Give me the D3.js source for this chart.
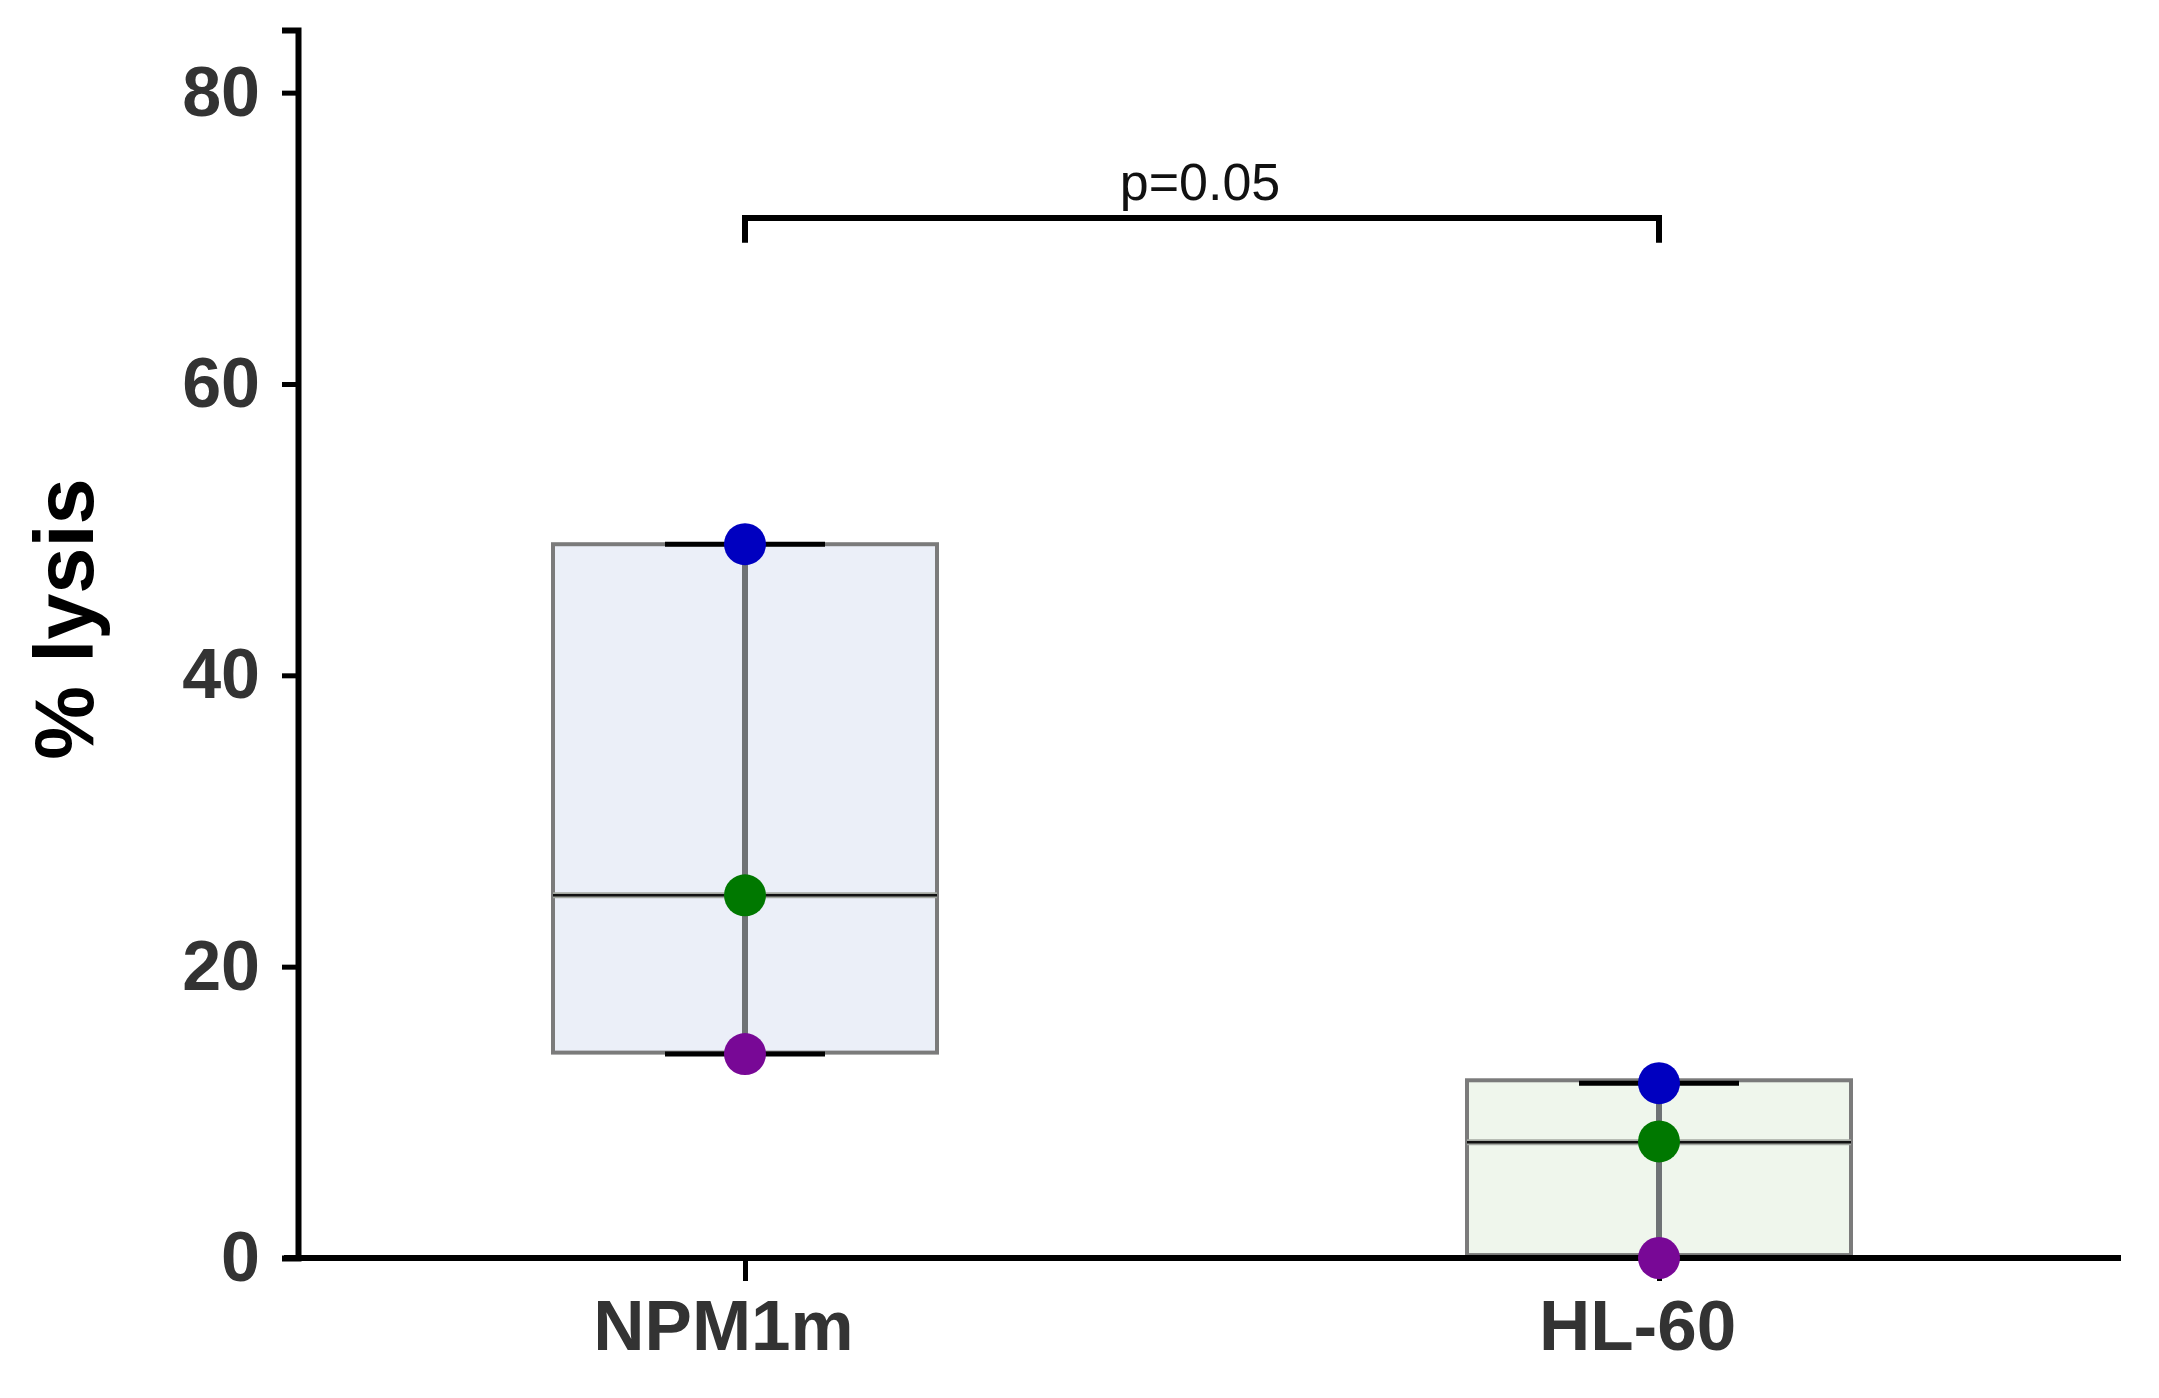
<!DOCTYPE html>
<html>
<head>
<meta charset="utf-8">
<script src="https://cdn.jsdelivr.net/npm/d3@7"></script>
<style>
  body { margin: 0; background: #fff; }
  text { font-family: 'Liberation Sans', Arial, sans-serif; }
</style>
</head>
<body>
<script>
// data
let groups = ['NPM1m', 'HL-60']
let boxLow = [14.1, 0.2]
let boxHigh = [49.0, 12.2]
let medians = [24.9, 7.95]
let whiskerLow = [14.0, 0]
let whiskerHigh = [49.0, 12.0]
// the three replicates (one colour each)
let pointColors = ['#0000c0', '#007800', '#780896']
let pointValues = [
  [49.0, 24.9, 14.0],
  [12.0, 8.0, 0.0]
]
let boxFills = ['#ebeff8', '#eff6ec']
let yTicks = [0, 20, 40, 60, 80]
let pLabel = 'p=0.05'
let bracketY = 71.4
let bracketEnd = 69.7

// measurements
let m = {
  width: 2159,
  height: 1398,
  left: 298,
  right: 2121,
  top: 30,
  bottom: 1258,
  boxWidth: 384,
  capWidth: 160,
  dot: 21
}

let svg = d3.select('body')
  .append('svg')
  .attr('width', m.width)
  .attr('height', m.height)

let yScale = d3.scaleLinear()
  .domain([0, 84.3])
  .range([m.bottom, m.top])

let xScale = d3.scalePoint()
  .domain(groups)
  .range([745, 1659])

// boxes
let box = svg.selectAll('.box')
  .data(groups)
  .enter()
  .append('g')
  .attr('class', 'box')

box.append('rect')
  .attr('x', function(d) { return xScale(d) - m.boxWidth / 2 })
  .attr('width', m.boxWidth)
  .attr('y', function(d, i) { return yScale(boxHigh[i]) })
  .attr('height', function(d, i) { return yScale(boxLow[i]) - yScale(boxHigh[i]) })
  .attr('fill', function(d, i) { return boxFills[i] })
  .attr('stroke', '#7b7b7b')
  .attr('stroke-width', 4)

// median: grey halo with a black core
box.append('line')
  .attr('x1', function(d) { return xScale(d) - m.boxWidth / 2 })
  .attr('x2', function(d) { return xScale(d) + m.boxWidth / 2 })
  .attr('y1', function(d, i) { return yScale(medians[i]) })
  .attr('y2', function(d, i) { return yScale(medians[i]) })
  .attr('stroke', '#a4a8a2')
  .attr('stroke-width', 6)

box.append('line')
  .attr('x1', function(d) { return xScale(d) - m.boxWidth / 2 })
  .attr('x2', function(d) { return xScale(d) + m.boxWidth / 2 })
  .attr('y1', function(d, i) { return yScale(medians[i]) })
  .attr('y2', function(d, i) { return yScale(medians[i]) })
  .attr('stroke', '#111')
  .attr('stroke-width', 2.5)

// whisker
box.append('line')
  .attr('x1', function(d) { return xScale(d) })
  .attr('x2', function(d) { return xScale(d) })
  .attr('y1', function(d, i) { return yScale(whiskerLow[i]) })
  .attr('y2', function(d, i) { return yScale(whiskerHigh[i]) })
  .attr('stroke', '#6e7275')
  .attr('stroke-width', 6)

// caps
box.selectAll('.cap')
  .data(function(d, i) { return [[d, whiskerLow[i]], [d, whiskerHigh[i]]] })
  .enter()
  .append('line')
  .attr('class', 'cap')
  .attr('x1', function(d) { return xScale(d[0]) - m.capWidth / 2 })
  .attr('x2', function(d) { return xScale(d[0]) + m.capWidth / 2 })
  .attr('y1', function(d) { return yScale(d[1]) })
  .attr('y2', function(d) { return yScale(d[1]) })
  .attr('stroke', '#000')
  .attr('stroke-width', 5)

// x axis (ticks only, line drawn separately)
let xAxisG = svg.append('g')
  .attr('transform', 'translate(0,' + m.bottom + ')')
  .call(d3.axisBottom(xScale).tickSize(23).tickSizeOuter(0))

xAxisG.select('.domain').remove()
xAxisG.selectAll('.tick line')
  .attr('stroke', '#000')
  .attr('stroke-width', 5)
xAxisG.selectAll('.tick text')
  .attr('y', 92)
  .attr('dy', 0)
  .attr('dx', -22)
  .attr('fill', '#333')
  .attr('font-size', 71)
  .attr('font-weight', 'bold')
  .style('font-family', "'Liberation Sans', Arial, sans-serif")

svg.append('line')
  .attr('x1', m.left - 14)
  .attr('x2', m.right)
  .attr('y1', m.bottom)
  .attr('y2', m.bottom)
  .attr('stroke', '#000')
  .attr('stroke-width', 6)

// y axis
let yAxisG = svg.append('g')
  .attr('transform', 'translate(' + m.left + ',0)')
  .call(d3.axisLeft(yScale).tickValues(yTicks).tickSize(16).tickSizeOuter(16))

yAxisG.select('.domain')
  .attr('stroke', '#000')
  .attr('stroke-width', 6)
yAxisG.selectAll('.tick line')
  .attr('stroke', '#000')
  .attr('stroke-width', 5)
yAxisG.selectAll('.tick text')
  .attr('x', -38)
  .attr('fill', '#333')
  .attr('font-size', 70)
  .attr('font-weight', 'bold')
  .style('font-family', "'Liberation Sans', Arial, sans-serif")

// dots on top
pointValues.forEach(function(vals, gi) {
  svg.selectAll('.dot' + gi)
    .data(vals)
    .enter()
    .append('circle')
    .attr('cx', xScale(groups[gi]))
    .attr('cy', function(d) { return yScale(d) })
    .attr('r', m.dot)
    .attr('fill', function(d, i) { return pointColors[i] })
})

// y title
svg.append('text')
  .attr('transform', 'translate(93,619) rotate(-90)')
  .attr('text-anchor', 'middle')
  .attr('font-size', 83)
  .attr('font-weight', 'bold')
  .attr('fill', '#000')
  .text('% lysis')

// significance bracket
let bx1 = xScale(groups[0])
let bx2 = xScale(groups[1])
svg.append('path')
  .attr('d', 'M' + bx1 + ',' + yScale(bracketEnd) + 'V' + yScale(bracketY) +
    'H' + bx2 + 'V' + yScale(bracketEnd))
  .attr('fill', 'none')
  .attr('stroke', '#000')
  .attr('stroke-width', 6)

svg.append('text')
  .attr('x', (bx1 + bx2) / 2 - 2)
  .attr('y', yScale(bracketY) - 18)
  .attr('text-anchor', 'middle')
  .attr('font-size', 52)
  .attr('fill', '#111')
  .text(pLabel)
</script>
</body>
</html>
